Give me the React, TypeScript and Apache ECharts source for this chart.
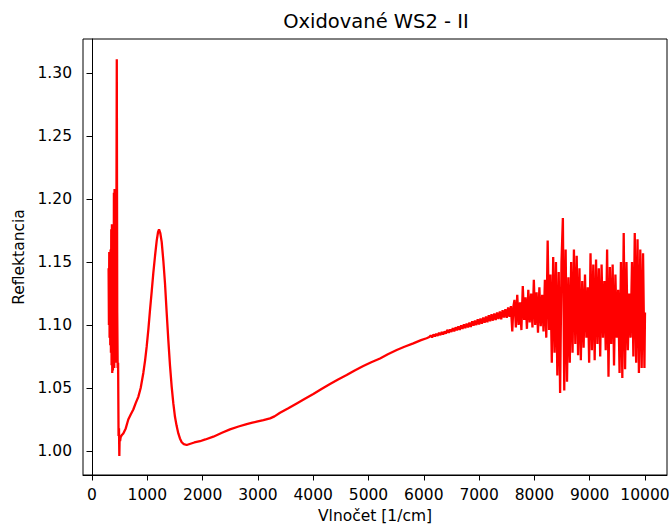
import React, { useEffect, useRef } from "react";
import * as echarts from "echarts";

const titleText = "Oxidované WS2 - II";
const xAxisTitle = "Vlnočet [1/cm]";
const yAxisTitle = "Reflektancia";

const xTicks = [0, 1000, 2000, 3000, 4000, 5000, 6000, 7000, 8000, 9000, 10000];
const yTicks = [1.0, 1.05, 1.1, 1.15, 1.2, 1.25, 1.3];

// wavenumber [1/cm]
const wavenumber = [
  300, 306, 312, 318, 324, 330, 336, 342, 348, 354, 360, 366, 372, 378, 384, 390, 396, 402, 408, 414,
  420, 426, 432, 438, 442, 448, 456, 464, 472, 480, 488, 494, 500, 508, 518, 530, 545,
  566, 610, 656, 700, 747, 790, 837, 880, 928, 960, 989, 1020, 1049, 1080, 1108, 1140, 1170, 1195,
  1212, 1235, 1260, 1290, 1320, 1350, 1380, 1410, 1441, 1470, 1501, 1530, 1561, 1590, 1622, 1660,
  1712, 1780, 1850, 1953, 2050, 2194, 2350, 2495, 2650, 2797, 2900, 2978, 3100, 3219, 3300, 3400,
  3550, 3702, 3850, 4002, 4150, 4304, 4450, 4605, 4750, 4906, 5050, 5208, 5350, 5510, 5650, 5810,
  5950, 6050,
  6100, 6125, 6150, 6175, 6200, 6225, 6250, 6275, 6300, 6325, 6350, 6375, 6400, 6425, 6450, 6475,
  6500, 6525, 6550, 6575, 6600, 6625, 6650, 6675, 6700, 6725, 6750, 6775, 6800, 6825, 6850, 6875,
  6900, 6925, 6950, 6975, 7000, 7025, 7050, 7075, 7100, 7125, 7150, 7175, 7200, 7225, 7250, 7275,
  7300, 7325, 7350, 7375, 7400, 7425, 7450, 7475, 7500, 7525, 7550, 7575, 7600, 7620,
  7640, 7665, 7690, 7715, 7740, 7765, 7790, 7815, 7840, 7865, 7890, 7915, 7940, 7965, 7990, 8015,
  8040, 8065, 8090, 8115, 8140, 8165, 8190, 8215, 8240, 8265, 8290, 8315, 8340, 8365, 8390, 8415,
  8440, 8465, 8490, 8515, 8540, 8565, 8590, 8615, 8640, 8665, 8690, 8715, 8740, 8765, 8790, 8815,
  8840, 8865, 8890, 8915, 8940, 8965, 8990, 9015, 9040, 9065, 9090, 9115, 9140, 9165, 9190, 9215,
  9240, 9265, 9290, 9315, 9340, 9365, 9390, 9415, 9440, 9465, 9490, 9515, 9540, 9565, 9590, 9615,
  9640, 9665, 9690, 9715, 9740, 9765, 9790, 9815, 9840, 9865, 9890, 9915, 9940, 9965, 9990, 10000,
];

// reflectance
const reflectance = [
  1.145, 1.1, 1.158, 1.09, 1.152, 1.084, 1.16, 1.078, 1.176, 1.068, 1.18, 1.062, 1.176, 1.064, 1.17, 1.072, 1.205, 1.066, 1.208, 1.078,
  1.196, 1.07, 1.19, 1.075, 1.2, 1.311, 1.11, 1.066, 1.07, 1.012, 1.018, 0.996, 1.012, 1.008, 1.011, 1.012, 1.013,
  1.014, 1.018, 1.025, 1.029, 1.033, 1.038, 1.043, 1.05, 1.062, 1.072, 1.083, 1.097, 1.112, 1.127, 1.141, 1.155, 1.167, 1.174,
  1.176, 1.173, 1.166, 1.151, 1.133, 1.11, 1.088, 1.068, 1.051, 1.038, 1.027, 1.02, 1.014, 1.01, 1.007, 1.0055,
  1.0048, 1.0058, 1.0068, 1.0078, 1.0092, 1.0114, 1.0145, 1.0172, 1.0195, 1.0214, 1.0225, 1.0233, 1.0245, 1.0259, 1.0275, 1.0304,
  1.034, 1.0378, 1.0415, 1.0452, 1.0492, 1.0532, 1.0568, 1.0603, 1.064, 1.0675, 1.0705, 1.0735, 1.0768, 1.0802, 1.0828, 1.0855,
  1.088, 1.0895,
  1.0905, 1.0918, 1.0902, 1.0925, 1.091, 1.093, 1.0915, 1.0938, 1.092, 1.0945, 1.0925, 1.095, 1.0932, 1.0962, 1.0938, 1.0965,
  1.0945, 1.0975, 1.095, 1.0982, 1.0958, 1.099, 1.0962, 1.0998, 1.097, 1.1005, 1.0975, 1.1012, 1.0982, 1.102, 1.0985, 1.103,
  1.0995, 1.1035, 1.1, 1.1045, 1.1005, 1.1052, 1.101, 1.106, 1.1018, 1.1068, 1.1022, 1.1078, 1.103, 1.1085, 1.1035, 1.1092,
  1.104, 1.11, 1.1048, 1.1108, 1.1045, 1.1118, 1.106, 1.1125, 1.1058, 1.114, 1.1065, 1.115, 1.095, 1.1145,
  1.12, 1.098, 1.124, 1.1, 1.118, 1.096, 1.131, 1.104, 1.122, 1.097, 1.128, 1.102, 1.125, 1.098, 1.136, 1.1,
  1.126, 1.094, 1.13, 1.099, 1.124, 1.095, 1.136, 1.09, 1.167, 1.096, 1.14, 1.07, 1.154, 1.078, 1.15, 1.06,
  1.142, 1.046, 1.15, 1.185, 1.048, 1.16, 1.055, 1.138, 1.07, 1.15, 1.078, 1.16, 1.085, 1.155, 1.076, 1.145,
  1.072, 1.135, 1.082, 1.14, 1.09, 1.13, 1.07, 1.157, 1.08, 1.148, 1.072, 1.152, 1.085, 1.145, 1.075, 1.148,
  1.09, 1.135, 1.08, 1.16, 1.059, 1.146, 1.085, 1.148, 1.068, 1.14, 1.09, 1.128, 1.062, 1.15, 1.058, 1.173,
  1.065, 1.15, 1.08, 1.125, 1.09, 1.15, 1.075, 1.173, 1.07, 1.168, 1.062, 1.16, 1.066, 1.157, 1.066, 1.11,
];

const FONT = "DejaVu Sans";
const TICK_FS = 15.5;

export default function App() {
  const ref = useRef<HTMLDivElement>(null);

  useEffect(() => {
    document.body.style.margin = "0";
    if (!ref.current) return;
    const chart = echarts.init(ref.current, null, { renderer: "svg" });
    const data = wavenumber.map((x, i) => [x, reflectance[i]]);

    chart.setOption({
      animation: false,
      backgroundColor: "#ffffff",
      graphic: [
        {
          type: "text",
          x: 376,
          y: 21,
          style: {
            text: titleText,
            fontFamily: FONT,
            fontSize: 19.5,
            fill: "#000",
            textAlign: "center",
            textVerticalAlign: "middle",
          },
        },
      ],
      grid: {
        left: 83,
        right: 3,
        top: 39,
        bottom: 51,
        containLabel: false,
        outerBoundsMode: "none",
        show: true,
        borderColor: "#000",
        borderWidth: 1,
        backgroundColor: "transparent",
      },
      xAxis: {
        type: "value",
        min: -163,
        max: 10398,
        name: xAxisTitle,
        nameLocation: "middle",
        nameGap: 33,
        nameTextStyle: { fontFamily: FONT, fontSize: TICK_FS, color: "#000" },
        axisLine: { show: true, lineStyle: { color: "#000", width: 1 } },
        axisTick: { show: true, length: 5.5, inside: false, customValues: xTicks, lineStyle: { color: "#000" } },
        axisLabel: {
          customValues: xTicks,
          margin: 11.5,
          fontFamily: FONT,
          fontSize: TICK_FS,
          color: "#000",
          hideOverlap: false,
          formatter: (v: number) => String(v),
        },
        splitLine: { show: false },
      },
      yAxis: {
        type: "value",
        min: 0.981,
        max: 1.327,
        name: yAxisTitle,
        nameLocation: "middle",
        nameGap: 55,
        nameRotate: 90,
        nameTextStyle: { fontFamily: FONT, fontSize: TICK_FS, color: "#000" },
        axisLine: { show: true, lineStyle: { color: "#000", width: 1 } },
        axisTick: { show: true, length: 5.5, inside: false, customValues: yTicks, lineStyle: { color: "#000" } },
        axisLabel: {
          customValues: yTicks,
          margin: 11,
          fontFamily: FONT,
          fontSize: TICK_FS,
          color: "#000",
          formatter: (v: number) => v.toFixed(2),
        },
        splitLine: { show: false },
      },
      series: [
        {
          type: "line",
          data,
          showSymbol: false,
          symbol: "none",
          lineStyle: { color: "#ff0000", width: 2.3 },
          clip: true,
        },
      ],
    });

    return () => chart.dispose();
  }, []);

  return <div ref={ref} style={{ width: 670, height: 526 }} />;
}
